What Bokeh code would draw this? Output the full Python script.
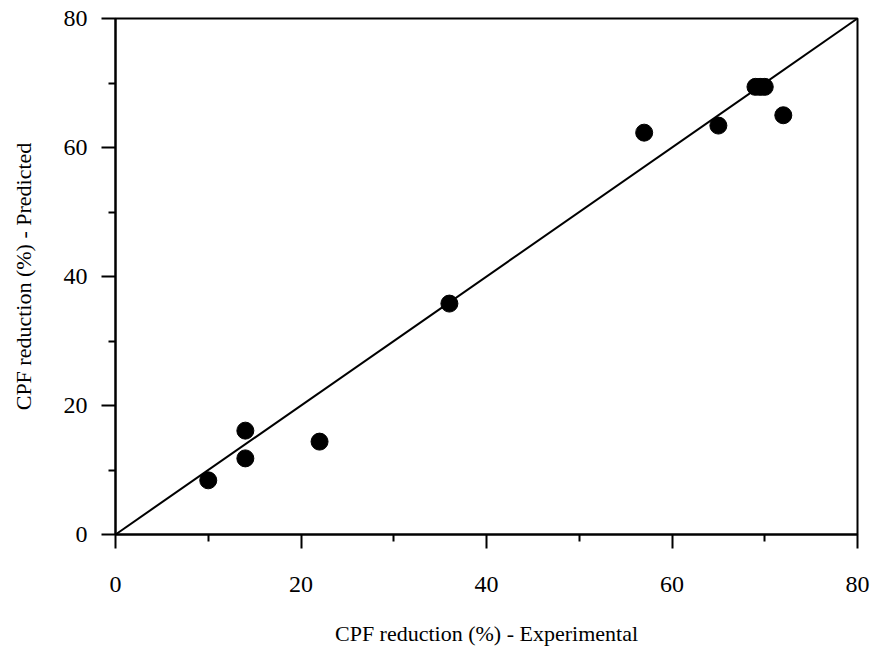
from bokeh.plotting import figure
from bokeh.models import FixedTicker, Range1d, ColumnDataSource
from bokeh.embed import file_html
from bokeh.resources import INLINE

# Experimental vs predicted CPF reduction (%)
experimental = [10, 14, 14, 22, 36, 57, 65, 69, 69.5, 70, 72]
predicted = [8.4, 16.1, 11.8, 14.4, 35.8, 62.3, 63.4, 69.4, 69.4, 69.4, 65.0]

# 1:1 reference line
line_x = [0, 80]
line_y = [0, 80]

major_ticks = [0, 20, 40, 60, 80]
minor_ticks = [10, 30, 50, 70]

FONT = "Liberation Serif"

p = figure(width=875, height=650, output_backend="svg", toolbar_location=None,
           x_range=Range1d(0, 80), y_range=Range1d(0, 80),
           min_border_left=115, min_border_right=18,
           min_border_top=18, min_border_bottom=116)
p.background_fill_color = "white"
p.border_fill_color = "white"
p.outline_line_color = "black"
p.outline_line_width = 2
p.grid.visible = False

p.line(line_x, line_y, line_color="black", line_width=2)
src = ColumnDataSource(dict(x=experimental, y=predicted))
p.scatter("x", "y", source=src, size=17, fill_color="black", line_color="black")

for ax in (p.xaxis[0], p.yaxis[0]):
    ax.ticker = FixedTicker(ticks=major_ticks, minor_ticks=minor_ticks)
    ax.axis_line_width = 2
    ax.major_tick_line_width = 2
    ax.minor_tick_line_width = 2
    ax.major_tick_in = 0
    ax.major_tick_out = 14
    ax.minor_tick_in = 0
    ax.minor_tick_out = 7
    ax.major_label_text_font = FONT
    ax.major_label_text_font_size = "24px"
    ax.major_label_text_color = "black"
    ax.axis_label_text_font = FONT
    ax.axis_label_text_font_size = "22px"
    ax.axis_label_text_font_style = "normal"
    ax.axis_label_text_color = "black"

p.xaxis.major_label_standoff = 28
p.yaxis.major_label_standoff = 14
p.xaxis.axis_label = "CPF reduction (%) - Experimental"
p.yaxis.axis_label = "CPF reduction (%) - Predicted"
p.xaxis.axis_label_standoff = 26
p.yaxis.axis_label_standoff = 25

open("out.html", "w").write(file_html(p, INLINE))
